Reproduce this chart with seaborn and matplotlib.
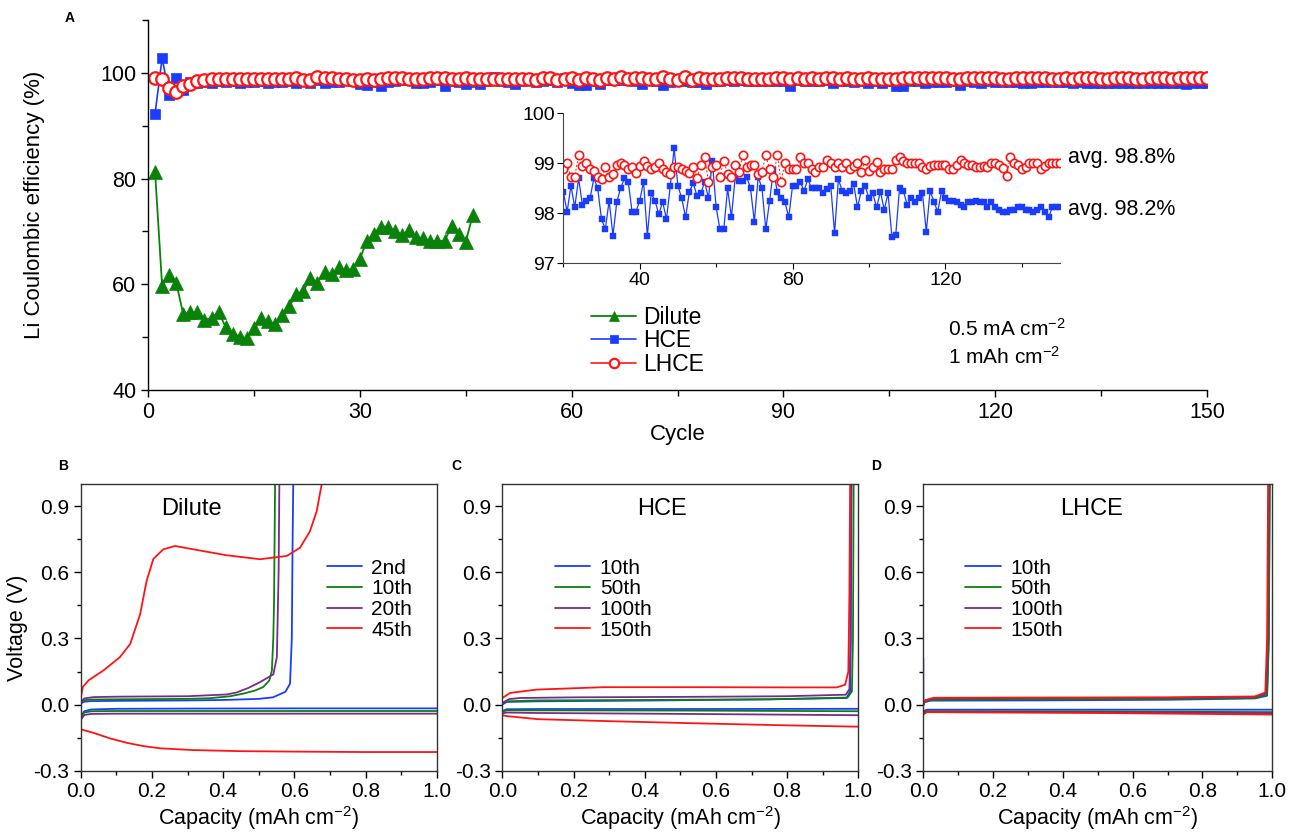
import numpy as np
import pandas as pd
import matplotlib
matplotlib.use("Agg")
import matplotlib.pyplot as plt
import seaborn as sns
from matplotlib.ticker import MultipleLocator

# ---------------- data: panel A (Coulombic efficiency) ----------------
cycles_dilute = list(range(1, 47))
ce_dilute = [81.3, 59.7, 61.8, 60.3, 54.3, 54.75, 54.75, 53.3, 53.6, 54.75,
             51.9, 50.6, 50.1, 49.8, 51.7, 53.6, 53.0, 52.5, 54.2, 55.8,
             58.1, 58.7, 61.2, 60.3, 62.4, 61.9, 63.2, 62.7, 62.9, 64.8,
             68.2, 69.6, 70.9, 70.9, 70.1, 69.3, 70.3, 68.9, 68.7, 68.2,
             68.2, 68.2, 71.0, 69.6, 68.0, 73.1]

cycles_all = list(range(1, 151))
ce_hce = [92.3, 102.8, 95.9, 99.0, 96.7, 98.2, 98.0, 98.3, 98.1, 98.4,
          98.2, 98.5, 98.0, 98.3, 98.2, 98.4, 98.1, 98.3, 98.2,
          98.43, 98.03, 98.55, 98.12, 98.7, 98.17, 98.25, 98.3, 98.7, 98.5,
          97.88, 97.69, 98.25, 97.55, 98.23, 98.5, 98.7, 98.63, 98.03, 98.03,
          98.25, 98.63, 97.55, 98.4, 98.25, 97.98, 98.23, 97.88, 98.55, 99.3,
          98.55, 98.3, 97.92, 98.43, 98.6, 98.35, 98.4, 98.63, 98.3, 99.05,
          98.12, 97.68, 97.68, 98.5, 97.92, 98.73, 98.65, 98.65, 98.73, 98.5,
          97.83, 98.73, 98.5, 97.68, 98.25, 98.87, 98.43, 98.3, 98.23, 97.92,
          98.55,
          98.55, 98.63, 98.45, 98.68, 98.5, 98.5, 98.5, 98.4, 98.48, 98.55,
          97.6, 98.68, 98.45, 98.4, 98.45, 98.58, 98.12, 98.45, 98.55, 98.3,
          98.4, 98.12, 98.43, 98.07, 98.4, 97.53, 97.56, 98.5, 98.45, 98.17,
          98.3, 98.23, 98.3, 98.4, 97.63, 98.45, 98.23, 98.03, 98.45, 98.3,
          98.25, 98.25, 98.23, 98.17, 98.12, 98.23, 98.23, 98.25, 98.23, 98.23,
          98.12, 98.23, 98.12, 98.07, 98.03, 98.03, 98.07, 98.07, 98.12, 98.12,
          98.07, 98.07, 98.03, 98.07, 98.12, 98.03, 97.92, 98.12, 98.12, 98.12]
ce_lhce = [99.1, 98.8, 97.2, 96.4, 97.5, 97.95, 98.46, 98.65, 98.8, 98.8,
           98.85, 98.8, 98.9, 98.8, 98.85, 98.9, 98.8, 98.85, 98.9,
           98.88, 99.0, 98.73, 98.73, 99.17, 98.95, 99.0, 98.88, 98.85, 98.73,
           98.68, 98.92, 98.73, 98.79, 98.97, 99.01, 98.97, 98.88, 98.92, 98.81,
           98.95, 99.05, 98.95, 98.88, 98.92, 99.01, 98.88, 98.83, 98.79, 98.92,
           98.92, 98.88, 98.85, 98.81, 98.92, 98.70, 98.97, 99.12, 98.63, 98.92,
           98.97, 98.73, 99.05, 98.79, 98.73, 98.97, 98.83, 99.17, 98.92, 98.97,
           98.97, 98.79, 98.83, 99.17, 98.88, 98.73, 99.17, 98.63, 99.01, 98.88,
           98.88,
           98.88, 99.12, 99.0, 99.0, 98.88, 98.83, 98.92, 98.92, 99.07, 99.01,
           98.93, 99.0, 98.92, 99.0, 98.88, 98.95, 99.0, 98.83, 99.07, 98.85,
           98.93, 99.03, 98.83, 98.88, 98.88, 98.88, 99.07, 99.12, 99.05, 99.01,
           99.01, 99.01, 99.01, 98.93, 98.88, 98.95, 98.97, 98.97, 98.97, 98.97,
           98.88, 98.88, 98.97, 99.07, 99.01, 98.97, 98.97, 98.93, 98.93, 98.95,
           98.93, 99.01, 99.01, 98.97, 98.90, 98.75, 99.12, 99.0, 98.97, 98.88,
           98.92, 99.01, 99.01, 99.01, 98.88, 98.95, 99.01, 99.01, 99.01, 99.01]

series_labels = ["Dilute", "HCE", "LHCE"]
avg_labels = ["avg. 98.8%", "avg. 98.2%"]
cond_labels = ["0.5 mA cm$^{-2}$", "1 mAh cm$^{-2}$"]

# ---------------- data: panel B (Dilute) ----------------
b_labels = ["2nd", "10th", "20th", "45th"]
b_ch_cap = [
    [0.0, 0.01, 0.03, 0.1, 0.2, 0.3, 0.4, 0.5, 0.54, 0.575, 0.588, 0.593, 0.595, 0.597],
    [0.0, 0.01, 0.03, 0.1, 0.2, 0.3, 0.363, 0.42, 0.457, 0.49, 0.513, 0.53, 0.537, 0.541, 0.543, 0.546],
    [0.0, 0.01, 0.036, 0.1, 0.2, 0.3, 0.41, 0.438, 0.47, 0.504, 0.541, 0.551, 0.556, 0.558],
    [0.0, 0.006, 0.022, 0.064, 0.11, 0.139, 0.167, 0.185, 0.204, 0.232, 0.265, 0.316, 0.41,
     0.504, 0.579, 0.616, 0.644, 0.663, 0.677],
]
b_ch_v = [
    [0.005, 0.013, 0.016, 0.017, 0.018, 0.019, 0.021, 0.026, 0.033, 0.058, 0.095, 0.30, 0.70, 1.0],
    [0.008, 0.020, 0.023, 0.024, 0.025, 0.026, 0.029, 0.038, 0.050, 0.064, 0.08, 0.11, 0.155, 0.3, 0.455, 1.0],
    [0.01, 0.028, 0.034, 0.036, 0.037, 0.038, 0.046, 0.055, 0.075, 0.102, 0.137, 0.215, 0.606, 1.0],
    [0.03, 0.08, 0.11, 0.155, 0.215, 0.275, 0.41, 0.56, 0.66, 0.704, 0.719, 0.704, 0.677,
     0.659, 0.674, 0.711, 0.786, 0.877, 1.0],
]
b_dis_cap = [
    [0.0, 0.01, 0.03, 0.1, 0.3, 0.6, 1.0],
    [0.0, 0.01, 0.03, 0.1, 0.5, 1.0],
    [0.0, 0.01, 0.03, 0.1, 0.5, 1.0],
    [0.0, 0.003, 0.036, 0.082, 0.129, 0.176, 0.223, 0.316, 0.45, 0.6, 0.8, 1.0],
]
b_dis_v = [
    [-0.055, -0.030, -0.022, -0.019, -0.018, -0.017, -0.017],
    [-0.06, -0.036, -0.030, -0.029, -0.029, -0.029],
    [-0.07, -0.047, -0.042, -0.041, -0.041, -0.041],
    [-0.105, -0.113, -0.128, -0.153, -0.173, -0.188, -0.198, -0.206, -0.211, -0.213, -0.215, -0.215],
]

# ---------------- data: panel C (HCE) ----------------
cd_labels = ["10th", "50th", "100th", "150th"]
c_ch_cap = [
    [0.0, 0.012, 0.1, 0.377, 0.752, 0.967, 0.977, 0.979, 0.981],
    [0.0, 0.012, 0.1, 0.4, 0.75, 0.97, 0.982, 0.985, 0.987],
    [0.0, 0.02, 0.05, 0.2, 0.5, 0.8, 0.965, 0.975, 0.978, 0.98],
    [0.0, 0.022, 0.096, 0.284, 0.565, 0.8, 0.939, 0.963, 0.972, 0.975, 0.977],
]
c_ch_v = [
    [0.0, 0.012, 0.015, 0.018, 0.024, 0.03, 0.06, 0.3, 1.0],
    [0.005, 0.015, 0.019, 0.021, 0.024, 0.032, 0.06, 0.3, 1.0],
    [0.008, 0.025, 0.030, 0.033, 0.035, 0.038, 0.045, 0.07, 0.3, 1.0],
    [0.03, 0.053, 0.068, 0.079, 0.079, 0.078, 0.078, 0.09, 0.15, 0.5, 1.0],
]
c_dis_cap = [
    [0.0, 0.012, 0.1, 0.5, 1.0],
    [0.0, 0.012, 0.1, 0.5, 1.0],
    [0.0, 0.012, 0.1, 0.5, 1.0],
    [0.0, 0.012, 0.1, 0.3, 0.55, 0.8, 1.0],
]
c_dis_v = [
    [-0.03, -0.021, -0.020, -0.020, -0.019],
    [-0.033, -0.026, -0.026, -0.027, -0.030],
    [-0.040, -0.036, -0.038, -0.042, -0.048],
    [-0.048, -0.052, -0.066, -0.075, -0.085, -0.094, -0.100],
]

# ---------------- data: panel D (LHCE) ----------------
d_ch_cap = [
    [0.0, 0.0, 0.003, 0.02, 0.3, 0.7, 0.95, 0.985, 0.99, 0.992],
    [0.0, 0.005, 0.03, 0.3, 0.7, 0.95, 0.985, 0.99, 0.993],
    [0.0, 0.005, 0.03, 0.3, 0.7, 0.95, 0.982, 0.987, 0.99],
    [0.0, 0.005, 0.03, 0.3, 0.7, 0.95, 0.98, 0.985, 0.988],
]
d_ch_v = [
    [0.21, 0.0, 0.01, 0.018, 0.019, 0.022, 0.028, 0.04, 0.3, 1.0],
    [0.0, 0.015, 0.022, 0.024, 0.026, 0.030, 0.045, 0.3, 1.0],
    [0.0, 0.018, 0.028, 0.030, 0.031, 0.035, 0.050, 0.3, 1.0],
    [-0.005, 0.020, 0.031, 0.032, 0.033, 0.037, 0.055, 0.3, 1.0],
]
d_dis_cap = [
    [0.0, 0.01, 0.1, 0.5, 1.0],
    [0.0, 0.01, 0.1, 0.5, 1.0],
    [0.0, 0.01, 0.1, 0.5, 1.0],
    [0.0, 0.01, 0.1, 0.5, 1.0],
]
d_dis_v = [
    [-0.030, -0.023, -0.023, -0.023, -0.023],
    [-0.035, -0.030, -0.030, -0.031, -0.034],
    [-0.040, -0.032, -0.033, -0.035, -0.039],
    [-0.045, -0.034, -0.035, -0.038, -0.045],
]

# ---------------- style ----------------
GREEN = "#0a820a"
BLUE = "#1a3cff"
RED = "#ff1414"
PURPLE = "#7a2a8c"
curve_colors = [BLUE, GREEN, PURPLE, RED]

sns.set_theme(style="ticks")
plt.rcParams["font.family"] = ["Liberation Sans", "DejaVu Sans"]
plt.rcParams["mathtext.fontset"] = "custom"
plt.rcParams["mathtext.rm"] = "Liberation Sans"
plt.rcParams["mathtext.it"] = "Liberation Sans:italic"
plt.rcParams["axes.unicode_minus"] = False
plt.rcParams["axes.edgecolor"] = "black"
plt.rcParams["xtick.color"] = "black"
plt.rcParams["ytick.color"] = "black"
plt.rcParams["text.color"] = "black"
plt.rcParams["axes.labelcolor"] = "black"
plt.rcParams["axes.linewidth"] = 1.0

W, H = 1290, 834
fig = plt.figure(figsize=(W / 100, H / 100), dpi=100)


def fx(px):
    return px / W


def fy(py):
    return 1 - py / H


# ---------------- panel A ----------------
axA = fig.add_axes([fx(148), fy(390), fx(1207) - fx(148), fy(20) - fy(390)])
sns.lineplot(x=cycles_dilute, y=ce_dilute, ax=axA, color=GREEN, lw=1.3, marker="^",
             markersize=10, markeredgecolor=GREEN, markeredgewidth=0.5,
             estimator=None, sort=False, label=series_labels[0], legend=False)
sns.lineplot(x=cycles_all, y=ce_hce, ax=axA, color=BLUE, lw=1.2, marker="s",
             markersize=7, markeredgecolor=BLUE, markeredgewidth=0.5,
             estimator=None, sort=False, label=series_labels[1], legend=False)
sns.lineplot(x=cycles_all, y=ce_lhce, ax=axA, color=RED, lw=1.2, marker="o",
             markersize=9, markerfacecolor="white", markeredgecolor=RED, markeredgewidth=1.6,
             estimator=None, sort=False, label=series_labels[2], legend=False)
axA.set_xlim(0, 150)
axA.set_ylim(40, 110)
axA.set_xticks([0, 30, 60, 90, 120, 150])
axA.set_yticks([40, 60, 80, 100])
axA.xaxis.set_minor_locator(MultipleLocator(15))
axA.yaxis.set_minor_locator(MultipleLocator(10))
axA.tick_params(axis="both", which="major", labelsize=15.5, length=5, width=1, direction="out")
axA.tick_params(axis="both", which="minor", length=4, width=1, direction="out")
sns.despine(ax=axA)
axA.set_xlabel("Cycle", fontsize=16, labelpad=1)
axA.set_ylabel("Li Coulombic efficiency (%)", fontsize=16, labelpad=40)
axA.legend(loc="upper left", bbox_to_anchor=(0.418, 0.228), frameon=False, fontsize=16.5,
           handlelength=2.0, handletextpad=0.3, labelspacing=0.02, borderpad=0,
           borderaxespad=0, numpoints=1, markerscale=0.75)
axA.text(fx(948), fy(329), cond_labels[0], transform=fig.transFigure, fontsize=15, va="center")
axA.text(fx(948), fy(357), cond_labels[1], transform=fig.transFigure, fontsize=15, va="center")

# inset
axI = fig.add_axes([fx(563.3), fy(263.3), fx(1060) - fx(563.3), fy(113.3) - fy(263.3)])
ins_c = cycles_all[19:]
sns.lineplot(x=ins_c, y=ce_hce[19:], ax=axI, color=BLUE, lw=0.9, marker="s", markersize=5,
             markeredgecolor=BLUE, markeredgewidth=0.3, estimator=None, sort=False, legend=False)
sns.lineplot(x=ins_c, y=ce_lhce[19:], ax=axI, color=RED, lw=0.7, ls=(0, (2, 2)), marker="o",
             markersize=6, markerfacecolor="white", markeredgecolor=RED, markeredgewidth=1.2,
             estimator=None, sort=False, legend=False)
axI.set_xlim(20, 150)
axI.set_ylim(97, 100)
axI.set_xticks([40, 80, 120])
axI.set_yticks([97, 98, 99, 100])
axI.xaxis.set_minor_locator(MultipleLocator(20))
axI.tick_params(axis="both", which="major", labelsize=14, length=4, width=0.8, direction="out", pad=2)
axI.tick_params(axis="both", which="minor", length=3, width=0.8, direction="out")
for s in ["left", "bottom"]:
    axI.spines[s].set_linewidth(0.8)
    axI.spines[s].set_color("#444444")
axI.patch.set_alpha(0)
sns.despine(ax=axI)
axI.text(fx(1068), fy(157), avg_labels[0], transform=fig.transFigure, fontsize=15.5, va="center")
axI.text(fx(1068), fy(210), avg_labels[1], transform=fig.transFigure, fontsize=15.5, va="center")

# ---------------- panels B, C, D ----------------
lefts = [80.7, 502.3, 923.3]
widths = [356, 356, 349]
titles = ["Dilute", "HCE", "LHCE"]
title_x = [0.312, 0.449, 0.482]
leg_x = [0.691, 0.148, 0.12]
panel_data = [
    (b_labels, b_ch_cap, b_ch_v, b_dis_cap, b_dis_v),
    (cd_labels, c_ch_cap, c_ch_v, c_dis_cap, c_dis_v),
    (cd_labels, d_ch_cap, d_ch_v, d_dis_cap, d_dis_v),
]
for i, (labels, chc, chv, dic, div) in enumerate(panel_data):
    ax = fig.add_axes([fx(lefts[i]), fy(770.8), widths[i] / W, fy(484) - fy(770.8)])
    for k in range(4):
        sns.lineplot(x=dic[k], y=div[k], ax=ax, color=curve_colors[k], lw=1.3,
                     estimator=None, sort=False, legend=False)
    for k in range(4):
        sns.lineplot(x=chc[k], y=chv[k], ax=ax, color=curve_colors[k], lw=1.3,
                     estimator=None, sort=False, label=labels[k], legend=False)
    ax.set_xlim(0, 1.0)
    ax.set_ylim(-0.3, 1.0)
    ax.set_xticks([0.0, 0.2, 0.4, 0.6, 0.8, 1.0])
    ax.set_xticklabels(["0.0", "0.2", "0.4", "0.6", "0.8", "1.0"])
    ax.set_yticks([-0.3, 0.0, 0.3, 0.6, 0.9])
    ax.set_yticklabels(["-0.3", "0.0", "0.3", "0.6", "0.9"])
    ax.yaxis.set_minor_locator(MultipleLocator(0.15))
    ax.xaxis.set_minor_locator(MultipleLocator(0.1))
    ax.tick_params(axis="both", which="major", labelsize=15, length=5, width=1, direction="out", pad=3)
    ax.tick_params(axis="both", which="minor", length=3, width=1, direction="out")
    for s in ax.spines.values():
        s.set_linewidth(1.0)
        s.set_color("#333333")
    ax.set_xlabel("Capacity (mAh cm$^{-2}$)", fontsize=15.5, labelpad=2)
    if i == 0:
        ax.set_ylabel("Voltage (V)", fontsize=15.5, labelpad=4)
    else:
        ax.set_ylabel("")
    ax.text(title_x[i], 0.914, titles[i], transform=ax.transAxes, ha="center", va="center", fontsize=17)
    ax.legend(loc="upper left", bbox_to_anchor=(leg_x[i], 0.74), frameon=False, fontsize=15,
              handlelength=1.7, handletextpad=0.45, labelspacing=0.08, borderpad=0, borderaxespad=0)

# panel letters
for letter, (px, py) in zip(["A", "B", "C", "D"], [(70, 18), (63, 466), (456, 466), (876, 466)]):
    fig.text(fx(px), fy(py), letter, fontsize=10, fontweight="bold", ha="center", va="center")

fig.savefig("out.png", dpi=100)
